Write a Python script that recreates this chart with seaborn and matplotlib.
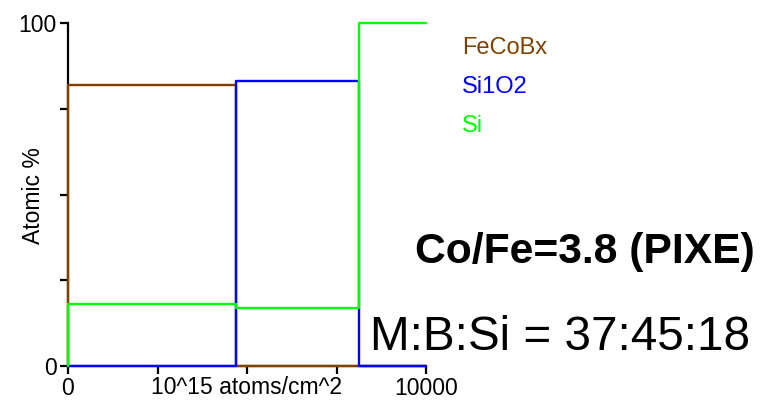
import matplotlib
matplotlib.use("Agg")
import matplotlib.pyplot as plt
import seaborn as sns
import pandas as pd

# Layer depth profile (10^15 atoms/cm^2) and atomic composition per layer
elements = ["FeCoBx", "Si1O2", "Si"]
colors = ["#804000", "#0000FF", "#00FF00"]
depth_points = [0, 0, 4700, 8130, 10000]
fecobx_pct = [0, 82, 0, 0, 0]
sio2_pct = [0, 0, 83, 0, 0]
si_pct = [0, 18, 17, 100, 100]

x_ticks = [0, 2500, 5000, 7500, 10000]
x_ticklabels = ["0", "", "", "", "10000"]
y_ticks = [0, 25, 50, 75, 100]
y_ticklabels = ["0", "", "", "", "100"]

rows = []
for name, vals in zip(elements, [fecobx_pct, sio2_pct, si_pct]):
    for d, v in zip(depth_points, vals):
        rows.append({"depth": d, "percent": v, "element": name})
df = pd.DataFrame(rows)

sns.set_theme(style="ticks")
plt.rcParams["font.family"] = ["Liberation Sans", "DejaVu Sans"]

W, H = 769, 401
fig = plt.figure(figsize=(W / 100, H / 100), dpi=100)
ax_w, ax_h = 426 - 68, 366 - 23
ax = fig.add_axes([68 / W, 1 - 366 / H, ax_w / W, ax_h / H])

sns.lineplot(data=df, x="depth", y="percent", hue="element",
             palette=dict(zip(elements, colors)), hue_order=elements,
             estimator=None, sort=False, drawstyle="steps-post",
             linewidth=1.7, ax=ax, legend=True)
for ln in ax.get_lines():
    ln.set_clip_on(False)
    ln.set_zorder(5)

ax.set_xlim(0, 10000)
ax.set_ylim(0, 100)
ax.set_xticks(x_ticks)
ax.set_xticklabels(x_ticklabels)
ax.set_yticks(y_ticks)
ax.set_yticklabels(y_ticklabels)
ax.tick_params(axis="both", labelsize=16.5, length=6, width=1.6,
               color="black", labelcolor="black", pad=2)
for side in ["top", "right"]:
    ax.spines[side].set_visible(False)
for side in ["left", "bottom"]:
    ax.spines[side].set_linewidth(1.6)
    ax.spines[side].set_color("black")

ax.set_ylabel("Atomic %", fontsize=16.5, color="black")
ax.yaxis.set_label_coords(-(68 - 33) / ax_w, (366 - 196) / ax_h)
ax.yaxis.label.set_verticalalignment("center")
ax.set_xlabel("10^15 atoms/cm^2", fontsize=16.5, color="black")
ax.xaxis.set_label_coords(0.5, -(376 - 366) / ax_h)
ax.xaxis.label.set_verticalalignment("top")

leg = ax.legend(loc="upper left", bbox_to_anchor=(462 / W, 1 - 37 / H),
                bbox_transform=fig.transFigure, frameon=False,
                handlelength=0, handletextpad=0, borderpad=0,
                borderaxespad=0, labelspacing=0.72, fontsize=17,
                labelcolor="linecolor")
for h in leg.legend_handles:
    h.set_visible(False)

fig.text(415 / W, 1 - 263 / H, "Co/Fe=3.8 (PIXE)", fontsize=30.7,
         fontweight="bold", ha="left", va="baseline", color="black")
fig.text(370 / W, 1 - 350 / H, "M:B:Si = 37:45:18", fontsize=34.3,
         ha="left", va="baseline", color="black")

fig.savefig("out.png", dpi=100, facecolor="white")
